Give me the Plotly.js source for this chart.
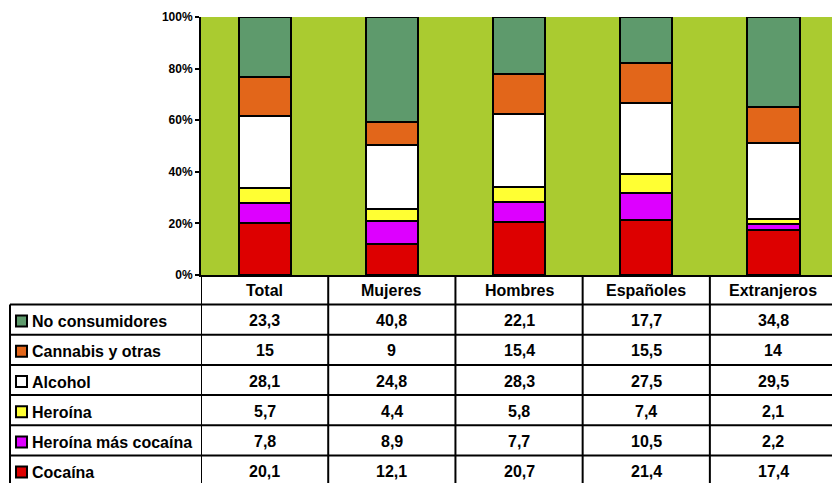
<!DOCTYPE html>
<html>
<head>
<meta charset="utf-8">
<script src="https://cdn.plot.ly/plotly-3.0.1.min.js"></script>
<style>html,body{margin:0;padding:0;background:#fff;}#chart{width:832px;height:483px;}</style>
</head>
<body>
<div id="chart"></div>
<script>
const categories = ["Total", "Mujeres", "Hombres", "Españoles", "Extranjeros"];
// series, top of table first
const seriesNames = ["No consumidores", "Cannabis y otras", "Alcohol", "Heroína", "Heroína más cocaína", "Cocaína"];
const noConsumidores = [23.3, 40.8, 22.1, 17.7, 34.8];
const cannabis = [15, 9, 15.4, 15.5, 14];
const alcohol = [28.1, 24.8, 28.3, 27.5, 29.5];
const heroina = [5.7, 4.4, 5.8, 7.4, 2.1];
const heroinaCocaina = [7.8, 8.9, 7.7, 10.5, 2.2];
const cocaina = [20.1, 12.1, 20.7, 21.4, 17.4];
const yTicks = [0, 20, 40, 60, 80, 100];

const seriesValues = [noConsumidores, cannabis, alcohol, heroina, heroinaCocaina, cocaina];
const seriesColors = ["#5E9A6C", "#E2661A", "#FFFFFF", "#FFFF33", "#DD00FF", "#DD0000"];

const W = 832, H = 483;
const L = 201, T = 17, B = 275;
const PW = W - L, PH = B - T;
const px = p => (p - L) / PW;
const py = p => (B - p) / PH;

const font = {family: "Liberation Sans, Arial, sans-serif", size: 16, color: "#000", weight: "bold"};

// bars: bottom-up order
const traces = [];
for (let i = seriesNames.length - 1; i >= 0; i--) {
  traces.push({
    type: "bar",
    name: seriesNames[i],
    x: categories,
    y: seriesValues[i],
    marker: {color: seriesColors[i], line: {color: "#000", width: 2}},
    hoverinfo: "name+y"
  });
}

const shapes = [];
const annotations = [];
const headerTop = 275, rowTop = 304.5, rowH = 30.2;
// header labels
categories.forEach((c) => {
  annotations.push({xref: "x", yref: "paper", x: c, y: py(headerTop + 15), text: c,
    showarrow: false, xanchor: "center", yanchor: "middle", font: font});
});
// vertical lines at category boundaries
for (let k = 0; k < categories.length; k++) {
  shapes.push({type: "line", xref: "x", yref: "paper", x0: k - 0.5, x1: k - 0.5,
    y0: py(headerTop), y1: py(H + 5), line: {color: "#000", width: 2}});
}
// left border of legend column
shapes.push({type: "line", xref: "paper", yref: "paper", x0: px(10), x1: px(10),
  y0: py(rowTop), y1: py(H + 5), line: {color: "#000", width: 2}});
// rows
seriesNames.forEach((name, r) => {
  const y0 = rowTop + r * rowH;
  const yc = y0 + rowH / 2;
  shapes.push({type: "line", xref: "paper", yref: "paper", x0: px(10), x1: 1,
    y0: py(y0), y1: py(y0), line: {color: "#000", width: 2}});
  shapes.push({type: "rect", xref: "paper", yref: "paper", x0: px(16), x1: px(27),
    y0: py(yc + 1.5 - 5.5), y1: py(yc + 1.5 + 5.5), fillcolor: seriesColors[r], line: {color: "#000", width: 2}});
  annotations.push({xref: "paper", yref: "paper", x: px(30), y: py(yc + 2), text: name,
    showarrow: false, xanchor: "left", yanchor: "middle", font: font});
  seriesValues[r].forEach((v, j) => {
    annotations.push({xref: "x", yref: "paper", x: categories[j], y: py(yc + 1), text: String(v).replace(".", ","),
      showarrow: false, xanchor: "center", yanchor: "middle", font: font});
  });
});

const layout = {
  width: W, height: H,
  margin: {l: L, r: 0, t: T, b: H - B, pad: 0},
  paper_bgcolor: "#FFFFFF",
  plot_bgcolor: "#AACB30",
  barmode: "stack",
  bargap: 0.59,
  showlegend: false,
  xaxis: {range: [-0.5, 4.46], showticklabels: false, ticks: "", showgrid: false, zeroline: false,
    showline: true, linecolor: "#000", linewidth: 2, fixedrange: true},
  yaxis: {range: [0, 100], tickvals: yTicks, ticktext: yTicks.map(t => t + "%"),
    showgrid: false, zeroline: false, showline: true, linecolor: "#000", linewidth: 2,
    ticks: "outside", ticklen: 4, tickwidth: 2, tickcolor: "#000",
    tickfont: {family: "Liberation Sans, Arial, sans-serif", size: 12, color: "#000", weight: "bold"},
    fixedrange: true},
  shapes: shapes,
  annotations: annotations
};

Plotly.newPlot("chart", traces, layout, {displayModeBar: false, staticPlot: true});
</script>
</body>
</html>
